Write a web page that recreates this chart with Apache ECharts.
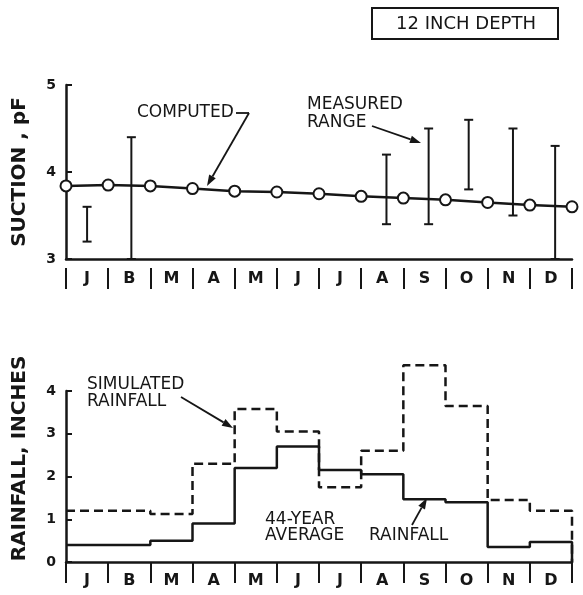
<!DOCTYPE html>
<html>
<head>
<meta charset="utf-8">
<script src="https://cdn.jsdelivr.net/npm/echarts@6/dist/echarts.min.js"></script>
<style>
html,body{margin:0;padding:0;background:#fff;}
#chart{width:583px;height:595px;}
</style>
</head>
<body>
<div id="chart"></div>
<script>
// ---- data ----
const months = ['J','B','M','A','M','J','J','A','S','O','N','D'];
const suctionTicks = [3, 4, 5];
const rainTicks = [0, 1, 2, 3, 4];
// computed suction at month boundaries (0 = start of Jan ... 12 = end of Dec)
const computedX = [0,1,2,3,4,5,6,7,8,9,10,11,12];
const computedSuction = [3.84,3.85,3.84,3.81,3.78,3.77,3.75,3.72,3.70,3.68,3.65,3.62,3.60];
// measured ranges
const measuredX = [0.5,1.55,7.6,8.6,9.55,10.6,11.6];
const measuredLow = [3.2,3.0,3.4,3.4,3.8,3.5,3.0];
const measuredHigh = [3.6,4.4,4.2,4.5,4.6,4.5,4.3];
// monthly rainfall (inches)
const avgRainfall = [0.4,0.4,0.5,0.9,2.2,2.7,2.15,2.05,1.47,1.4,0.35,0.47];
const simRainfall = [1.2,1.2,1.12,2.3,3.58,3.05,1.75,2.6,4.6,3.65,1.45,1.2];

function stepData(vals){
  const d = vals.map((v,i)=>[i,v]);
  d.push([vals.length, vals[vals.length-1]]);
  d.push([vals.length, 0]);
  return d;
}

const INK = '#161616';
const FONT = 'DejaVu Sans';

function arrow(x1,y1,x2,y2){
  const ang = Math.atan2(y2-y1, x2-x1);
  const L = 11, W = 3.8;
  const bx = x2 - L*Math.cos(ang), by = y2 - L*Math.sin(ang);
  const px = -Math.sin(ang)*W, py = Math.cos(ang)*W;
  return [
    {type:'line', shape:{x1:x1,y1:y1,x2:bx,y2:by}, style:{stroke:INK, lineWidth:1.8}},
    {type:'polygon', shape:{points:[[x2,y2],[bx+px,by+py],[bx-px,by-py]]}, style:{fill:INK}}
  ];
}
function label(text,x,y,size){
  return {type:'text', style:{text:text, x:x, y:y, font:(size||17)+'px "'+FONT+'"', fill:INK, align:'left', verticalAlign:'middle', textAlign:'left', textVerticalAlign:'middle'}};
}

const chart = echarts.init(document.getElementById('chart'), null, {renderer:'canvas'});

const catAxis = (g, off) => ({
  type:'category', gridIndex:g, data:months, position:'bottom', offset:off, boundaryGap:true,
  axisLine:{show:false},
  axisTick:{show:true, interval:0, length:21, lineStyle:{color:INK, width:2}},
  axisLabel:{interval:0, margin:3, fontSize:16, fontWeight:'bold', color:INK, fontFamily:FONT},
  splitLine:{show:false}
});
const valX = g => ({
  type:'value', gridIndex:g, min:0, max:12,
  axisLine:{show:true, onZero:false, lineStyle:{color:INK, width:2.5}},
  axisTick:{show:false}, axisLabel:{show:false}, splitLine:{show:false}
});
const valY = (g, ticks, name, pad) => ({
  type:'value', gridIndex:g, min:ticks[0], max:ticks[ticks.length-1], interval:1,
  axisLine:{show:true, lineStyle:{color:INK, width:2.5}},
  axisTick:{show:true, inside:true, length:6, lineStyle:{color:INK, width:2}},
  axisLabel:{margin:10, fontSize:14, fontWeight:'bold', color:INK, fontFamily:FONT},
  splitLine:{show:false},
  name:name, nameLocation:'middle', nameRotate:90, nameGap:36,
  nameTextStyle:{fontSize:20, fontWeight:'bold', color:INK, fontFamily:FONT, padding:pad}
});

const option = {
  animation:false,
  backgroundColor:'#fff',
  grid:[
    {left:66, top:85, width:506, height:174},
    {left:66, top:391, width:506, height:171}
  ],
  xAxis:[valX(0), valX(1), catAxis(0,9), catAxis(1,8)],
  yAxis:[valY(0, suctionTicks, 'SUCTION , pF', [0,0,0,0]), valY(1, rainTicks, 'RAINFALL, INCHES', [0,0,0,36])],
  series:[
    {
      type:'custom', xAxisIndex:0, yAxisIndex:0, z:2, clip:false,
      data: measuredX.map((x,i)=>[x, measuredLow[i], measuredHigh[i]]),
      renderItem:function(params, api){
        const top = api.coord([api.value(0), api.value(2)]);
        const bot = api.coord([api.value(0), api.value(1)]);
        const hw = 4.5;
        const st = {stroke:INK, lineWidth:2};
        return {type:'group', children:[
          {type:'line', shape:{x1:top[0],y1:top[1],x2:bot[0],y2:bot[1]}, style:st},
          {type:'line', shape:{x1:top[0]-hw,y1:top[1],x2:top[0]+hw,y2:top[1]}, style:st},
          {type:'line', shape:{x1:bot[0]-hw,y1:bot[1],x2:bot[0]+hw,y2:bot[1]}, style:st}
        ]};
      }
    },
    {
      type:'line', xAxisIndex:0, yAxisIndex:0, z:5, clip:false,
      data: computedX.map((x,i)=>[x, computedSuction[i]]),
      symbol:'circle', symbolSize:11, showSymbol:true,
      itemStyle:{color:'#fff', borderColor:INK, borderWidth:2},
      lineStyle:{color:INK, width:2.5}
    },
    {
      type:'line', xAxisIndex:1, yAxisIndex:1, step:'end', symbol:'none', clip:false,
      data: stepData(avgRainfall),
      lineStyle:{color:INK, width:2.5}
    },
    {
      type:'line', xAxisIndex:1, yAxisIndex:1, step:'end', symbol:'none', clip:false,
      data: stepData(simRainfall),
      lineStyle:{color:INK, width:2.5, type:[9,5]}
    }
  ],
  graphic:[
    {type:'rect', shape:{x:372, y:8, width:186, height:31}, style:{fill:'none', stroke:INK, lineWidth:2}},
    {type:'text', style:{text:'12 INCH DEPTH', x:466, y:24, font:'18px "'+FONT+'"', fill:INK, align:'center', verticalAlign:'middle', textAlign:'center', textVerticalAlign:'middle'}},
    label('COMPUTED', 137, 113),
    {type:'polyline', shape:{points:[[236,113],[249,113]]}, style:{stroke:INK, lineWidth:1.8, fill:'none'}},
    ...arrow(249,113,207,186),
    label('MEASURED', 307, 105),
    label('RANGE', 307, 123),
    ...arrow(372,126,421,143),
    label('SIMULATED', 87, 385),
    label('RAINFALL', 87, 402),
    ...arrow(181,397,233,428),
    label('44-YEAR', 265, 520),
    label('AVERAGE', 265, 536),
    label('RAINFALL', 369, 536),
    ...arrow(412,525,427,498)
  ]
};
chart.setOption(option);
</script>
</body>
</html>
